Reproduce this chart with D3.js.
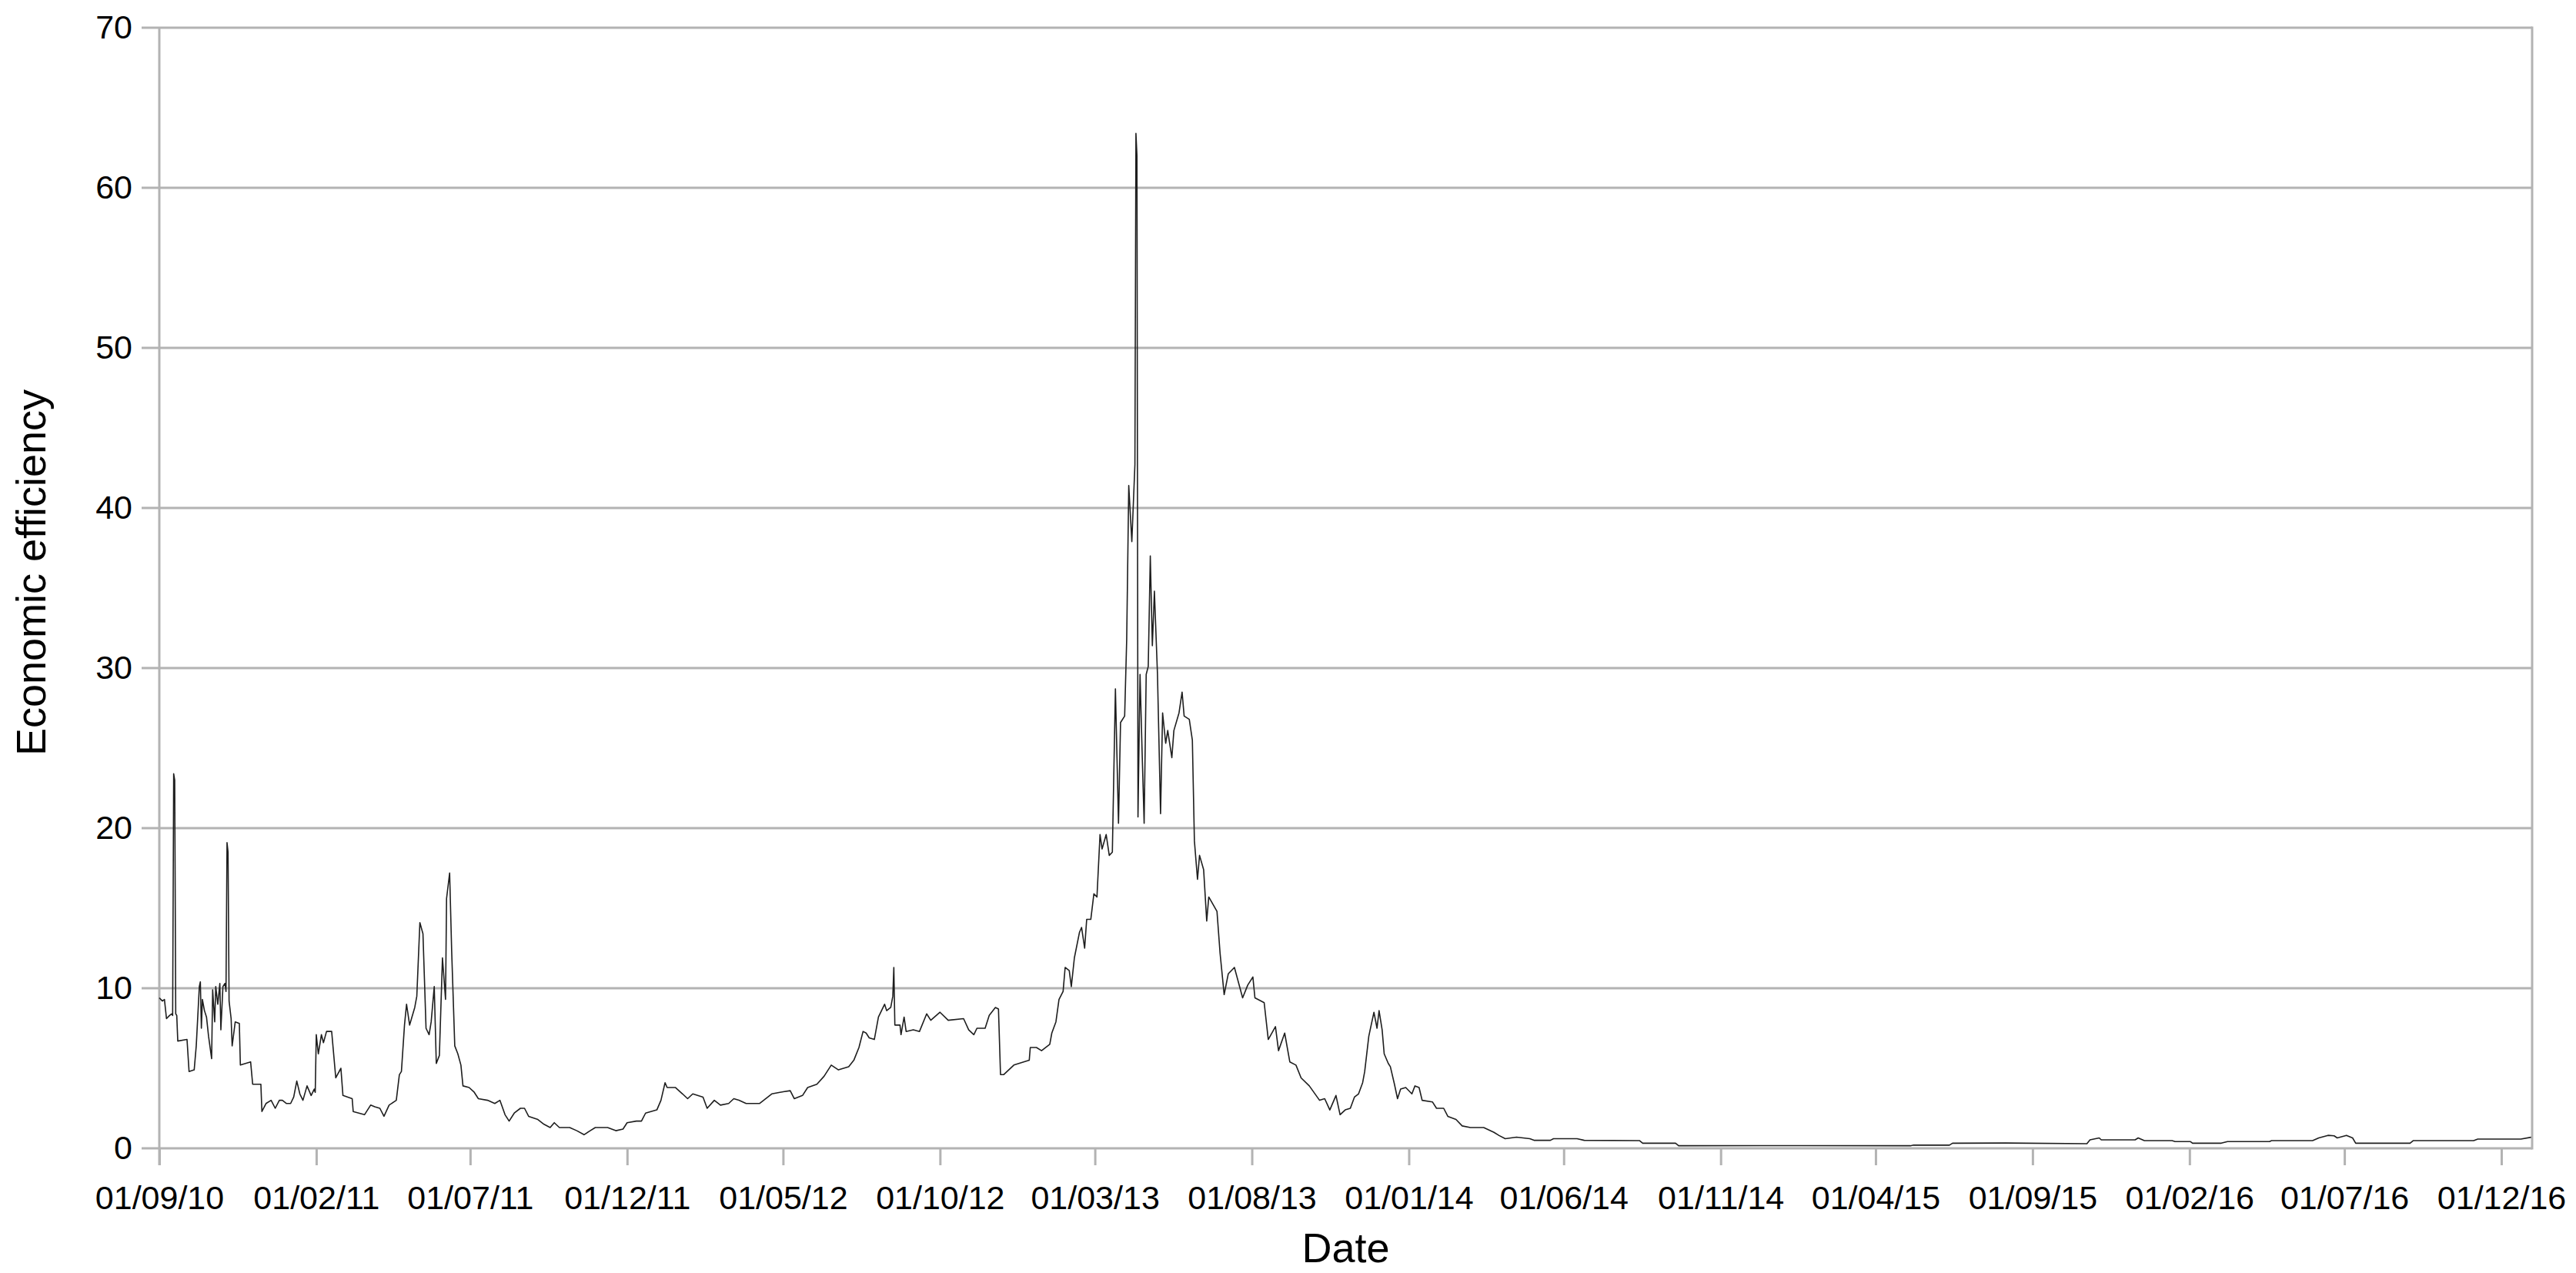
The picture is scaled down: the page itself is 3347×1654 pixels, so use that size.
<!DOCTYPE html>
<html><head><meta charset="utf-8">
<script src="https://cdn.jsdelivr.net/npm/d3@7"></script>
<style>
body{margin:0;background:#fff}
svg{display:block;background:#fff}
text{font-family:"Liberation Sans",Arial,sans-serif;fill:#000}
</style>
</head><body>
<svg id="chart" width="3347" height="1654"></svg>
<script>
// ---- data ----
const startDate = "2010-09-01";               // day 0 of the series
const dayOffsets = [0,3,5,7,10,12,13,14,15,16,17,18,27,29,34,36,39,40,41,42,44,46,48,51,52,54,55,57,59,60,62,64,65,66,67,68,70,71,74,78,79,89,91,99,100,104,109,113,117,120,124,128,131,134,137,140,144,148,151,152,153,155,158,160,163,168,172,177,179,188,189,200,206,210,215,219,224,231,234,236,239,241,244,249,251,254,257,260,263,265,268,270,273,276,279,280,283,285,288,291,294,296,302,307,311,320,327,332,337,341,346,352,356,360,369,375,381,385,390,400,407,414,420,425,437,445,452,456,465,470,474,485,489,493,495,503,510,515,520,530,534,541,547,555,560,565,572,585,597,605,615,619,627,632,641,648,655,662,672,677,682,686,689,692,697,701,707,709,713,715,716,717,722,723,726,728,735,741,748,752,761,769,784,789,794,797,805,809,815,818,820,823,833,848,849,855,860,868,870,874,877,881,883,887,889,892,897,899,902,904,908,911,914,917,919,923,926,929,932,935,937,941,943,945,948,951,952,953,954,956,958,960,962,964,966,968,970,973,976,978,981,983,987,989,994,997,999,1004,1007,1009,1012,1014,1018,1021,1023,1031,1034,1038,1042,1048,1056,1061,1066,1068,1077,1081,1088,1091,1097,1102,1108,1113,1121,1131,1136,1141,1147,1151,1156,1161,1165,1169,1173,1175,1179,1184,1187,1189,1192,1194,1198,1200,1204,1207,1210,1215,1221,1224,1228,1231,1241,1245,1252,1256,1264,1270,1278,1291,1301,1306,1312,1323,1336,1340,1356,1359,1382,1389,1443,1446,1478,1481,1600,1707,1710,1745,1748,1800,1879,1882,1891,1893,1926,1929,1935,1962,1965,1980,1982,2010,2016,2057,2059,2099,2105,2114,2120,2123,2132,2138,2141,2194,2197,2256,2260,2302,2312];
const efficiency = [9.4,9.2,9.3,8.1,8.3,8.4,8.3,23.4,23.0,8.4,8.3,6.7,6.8,4.8,4.9,6.4,10.1,10.4,7.5,9.3,8.6,8.2,7.0,5.6,9.9,7.9,10.1,9.0,10.3,7.4,10.1,10.3,9.8,19.1,18.5,9.2,8.1,6.4,7.9,7.8,5.2,5.4,4.0,4.0,2.3,2.8,3.0,2.5,3.0,3.0,2.8,2.8,3.2,4.2,3.4,3.0,3.9,3.3,3.7,3.5,7.1,5.9,7.1,6.6,7.3,7.3,4.4,5.0,3.3,3.1,2.3,2.1,2.7,2.6,2.5,2.0,2.7,3.0,4.6,4.8,7.7,9.0,7.7,8.8,9.5,14.1,13.4,7.5,7.1,7.9,10.1,5.3,5.8,11.9,9.3,15.6,17.2,12.3,6.4,5.9,5.2,3.9,3.8,3.5,3.1,3.0,2.8,3.0,2.1,1.7,2.2,2.5,2.5,2.0,1.8,1.5,1.3,1.6,1.3,1.3,1.1,0.85,1.1,1.3,1.3,1.1,1.2,1.6,1.7,1.7,2.2,2.4,3.0,4.1,3.8,3.8,3.4,3.1,3.4,3.2,2.5,3.0,2.7,2.8,3.1,3.0,2.8,2.8,3.4,3.5,3.6,3.1,3.3,3.8,4.0,4.5,5.2,4.9,5.1,5.5,6.3,7.3,7.2,6.9,6.8,8.2,9.0,8.6,8.8,9.5,11.3,7.7,7.7,7.1,8.2,7.3,7.4,7.3,8.4,8.0,8.5,8.0,8.1,7.4,7.1,7.5,7.5,8.3,8.8,8.7,4.6,4.6,5.2,5.5,6.3,6.3,6.1,6.5,7.2,7.9,9.3,9.8,11.3,11.1,10.1,11.9,13.5,13.8,12.5,14.3,14.3,15.9,15.7,19.6,18.7,19.6,18.3,18.5,28.7,20.3,26.6,27.0,31.8,41.4,37.9,42.7,63.4,62.0,20.7,29.6,24.8,20.3,29.6,30.1,37.0,31.4,34.8,29.6,20.9,27.2,25.3,26.1,24.4,26.1,27.2,28.5,27.0,26.8,25.5,19.2,16.8,18.3,17.4,14.2,15.7,14.8,12.2,9.6,10.9,11.3,9.4,10.2,10.7,9.4,9.1,6.8,7.6,6.1,7.2,5.4,5.2,4.4,3.9,3.0,3.1,2.4,3.3,2.1,2.4,2.5,3.2,3.4,4.1,4.8,7.0,8.5,7.5,8.6,7.4,5.9,5.3,5.1,4.0,3.1,3.7,3.8,3.4,3.9,3.8,3.0,2.9,2.5,2.5,2.0,1.8,1.4,1.3,1.3,1.0,0.8,0.6,0.7,0.6,0.5,0.5,0.6,0.6,0.5,0.48,0.32,0.32,0.16,0.17,0.16,0.2,0.2,0.32,0.33,0.29,0.53,0.65,0.53,0.53,0.65,0.48,0.48,0.42,0.42,0.32,0.32,0.42,0.42,0.48,0.48,0.65,0.81,0.78,0.65,0.81,0.65,0.32,0.32,0.48,0.48,0.58,0.58,0.69];
const xTickLabels = ["01/09/10","01/02/11","01/07/11","01/12/11","01/05/12","01/10/12","01/03/13","01/08/13","01/01/14","01/06/14","01/11/14","01/04/15","01/09/15","01/02/16","01/07/16","01/12/16"];
const xDomain = ["2010-09-01","2016-12-31"];
const yTicks = [0,10,20,30,40,50,60,70];
const xTitle = "Date";
const yTitle = "Economic efficiency";

// ---- layout ----
const W = 3347, H = 1654;
const L = 207, R = 3290, T = 36, B = 1492;
const gridColor = "#b3b3b3";
const parseISO = d3.timeParse("%Y-%m-%d");
const parseTick = d3.timeParse("%d/%m/%y");
const base = parseISO(startDate);
const data = dayOffsets.map((d, i) => ({date: d3.timeDay.offset(base, d), v: efficiency[i]}));

const x = d3.scaleTime().domain(xDomain.map(parseISO)).range([L, R]);
const y = d3.scaleLinear().domain([0, 70]).range([B, T]);

const svg = d3.select("#chart");
svg.append("rect").attr("width", W).attr("height", H).attr("fill", "#fff");

// horizontal gridlines with left tick stubs
svg.append("g").selectAll("line").data(yTicks).join("line")
  .attr("x1", L - 23).attr("x2", R)
  .attr("y1", d => y(d)).attr("y2", d => y(d))
  .attr("stroke", gridColor).attr("stroke-width", 3);

// left and right frame lines
svg.append("line").attr("x1", L).attr("x2", L).attr("y1", T).attr("y2", B + 22)
  .attr("stroke", gridColor).attr("stroke-width", 3);
svg.append("line").attr("x1", R).attr("x2", R).attr("y1", T - 1.5).attr("y2", B + 1.5)
  .attr("stroke", gridColor).attr("stroke-width", 3);

// x axis
const xTickDates = xTickLabels.map(parseTick);
const xAxis = d3.axisBottom(x).tickValues(xTickDates)
  .tickFormat((d, i) => xTickLabels[i]).tickSize(22).tickPadding(26);
const gx = svg.append("g").attr("transform", `translate(0,${B})`).call(xAxis);
gx.select(".domain").remove();
gx.selectAll(".tick line").attr("stroke", gridColor).attr("stroke-width", 3);
gx.selectAll(".tick text").attr("font-size", 43)
  .attr("font-family", '"Liberation Sans",Arial,sans-serif').attr("fill", "#000");

// y axis labels
const yAxis = d3.axisLeft(y).tickValues(yTicks).tickSize(0).tickPadding(35);
const gy = svg.append("g").attr("transform", `translate(${L},0)`).call(yAxis);
gy.select(".domain").remove();
gy.selectAll(".tick text").attr("font-size", 43)
  .attr("font-family", '"Liberation Sans",Arial,sans-serif').attr("fill", "#000");

// line
const line = d3.line().x(d => x(d.date)).y(d => y(d.v)).curve(d3.curveLinear);
svg.append("path").datum(data).attr("d", line)
  .attr("fill", "none").attr("stroke", "#1e1e1e").attr("stroke-width", 1.6)
  .attr("stroke-linejoin", "round");

// titles
svg.append("text").attr("x", (L + R) / 2).attr("y", 1640)
  .attr("text-anchor", "middle").attr("font-size", 54).text(xTitle);
svg.append("text").attr("transform", "translate(59,744) rotate(-90)")
  .attr("text-anchor", "middle").attr("font-size", 54).text(yTitle);
</script>
</body></html>
